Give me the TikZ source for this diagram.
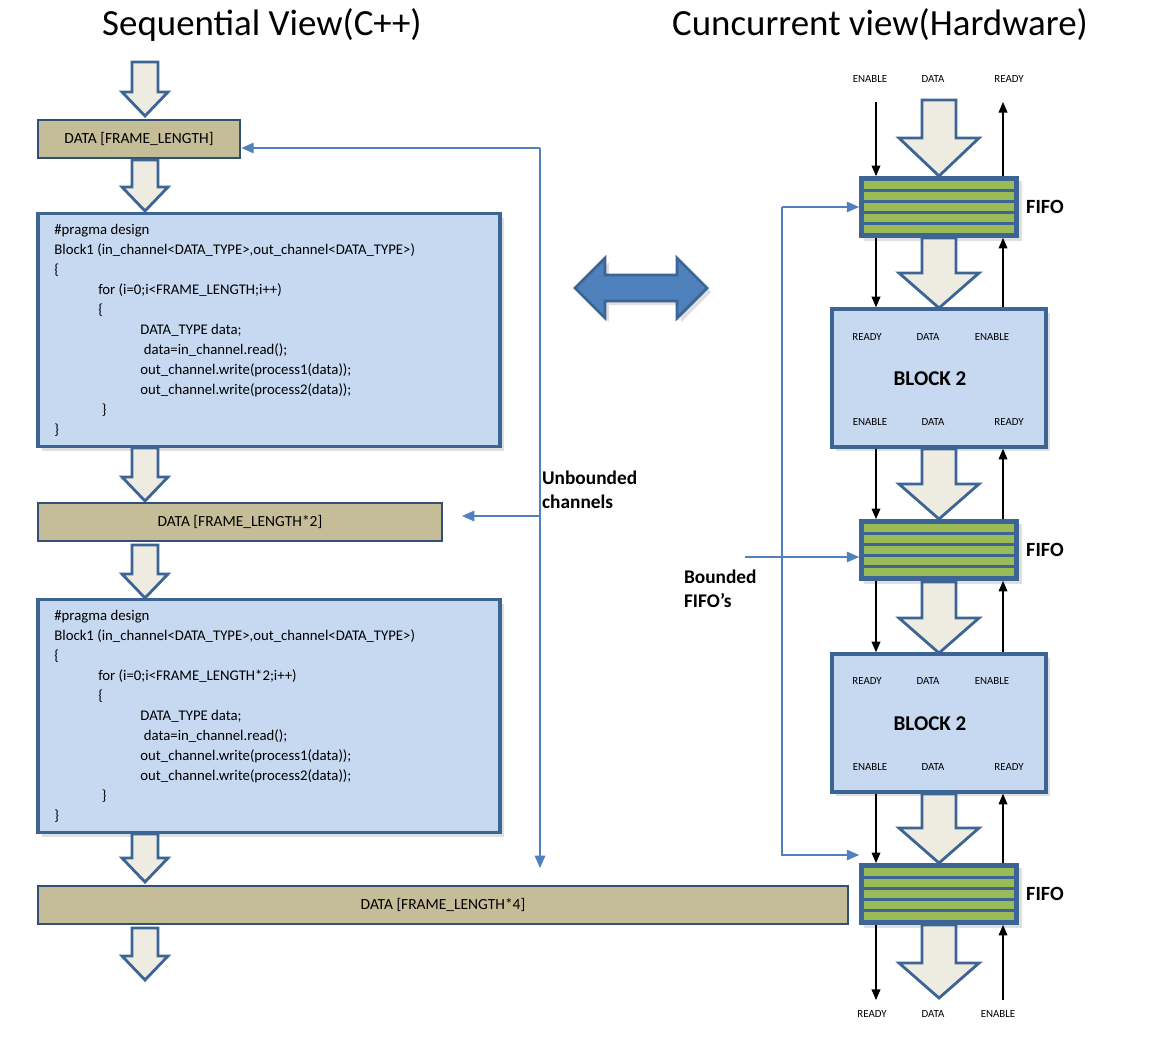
\documentclass[tikz,border=0pt]{standalone}
\usepackage{fontspec}
\setmainfont{Carlito}
\usetikzlibrary{arrows.meta,positioning,shadows}
\definecolor{boxblue}{HTML}{C6D9F1}
\definecolor{edgeblue}{HTML}{3C6494}
\definecolor{tan}{HTML}{C4BD97}
\definecolor{cream}{HTML}{EEECE1}
\definecolor{fifogreen}{HTML}{9BBB59}
\definecolor{linkblue}{HTML}{4F81BD}
\tikzset{
  codebox/.style={draw=edgeblue, line width=2pt, fill=boxblue, minimum width=9.24cm, minimum height=4.66cm, drop shadow={opacity=0.25}},
  databox/.style={draw=edgeblue!80!black, line width=1.6pt, fill=tan, minimum height=0.76cm, font=\fontsize{8.8}{10}\selectfont},
  blockbox/.style={draw=edgeblue, line width=2pt, fill=boxblue, minimum width=4.28cm, minimum height=2.76cm, drop shadow={opacity=0.25}},
  fifo/.style={draw=edgeblue, line width=1pt, fill=edgeblue, minimum width=3.16cm, minimum height=1.2cm, drop shadow={opacity=0.25}},
  fatarrow/.style={draw=edgeblue, line width=1.6pt, fill=cream},
  sig/.style={-{Triangle[length=6pt,width=5pt]}, line width=0.6pt},
  link/.style={-{Triangle[length=7pt,width=6pt]}, draw=linkblue, line width=0.7pt},
  lbl/.style={font=\fontsize{6.2}{8}\selectfont},
  code/.style={anchor=north west, align=left, font=\fontsize{8.4}{11.4}\selectfont, inner sep=0pt}
}
% x, top, bottom, shaft half, head half, head length
\newcommand\fatarr[6]{\draw[fatarrow] (#1-#4,#2) -- (#1+#4,#2) -- (#1+#4,#3-#6) -- (#1+#5,#3-#6) -- (#1,#3) -- (#1-#5,#3-#6) -- (#1-#4,#3-#6) -- cycle;}
\newcommand\fifobox[2]{%
  \node[fifo] (#1) at (939,#2) {};
  \foreach \i in {0,...,4}
    \fill[fifogreen] (864,#2-26+\i*11) rectangle (1014,#2-18+\i*11);
  \node[anchor=west, font=\bfseries\fontsize{11.5}{13}\selectfont] (#1-l) at (1020,#2) {FIFO};}
\begin{document}
\begin{tikzpicture}[x=0.02cm, y=-0.02cm]
\useasboundingbox (0,0) rectangle (1151,1038);

% titles
\node[font=\fontsize{21}{24}\selectfont] (tseq) at (262,25) {Sequential View(C++)};
\node[font=\fontsize{21}{24}\selectfont] (tcon) at (880,25) {Cuncurrent view(Hardware)};

% left column
\fatarr{145}{62}{116}{13}{23}{24}
\node[databox, minimum width=4.04cm] (d1) at (139,139) {DATA [FRAME\_LENGTH]};
\fatarr{145}{160}{211}{13}{23}{24}
\node[codebox] (c1) at (269,330) {};
\node[code] (c1t) at (54,224) {\#pragma design\\
Block1 (in\_channel<DATA\_TYPE>,out\_channel<DATA\_TYPE>)\\
\{\\
\hspace*{25pt}for (i=0;i<FRAME\_LENGTH;i++)\\
\hspace*{25pt}\{\\
\hspace*{49pt}DATA\_TYPE data;\\
\hspace*{51pt}data=in\_channel.read();\\
\hspace*{49pt}out\_channel.write(process1(data));\\
\hspace*{49pt}out\_channel.write(process2(data));\\
\hspace*{27pt}\}\\
\}};
\fatarr{145}{448}{501}{13}{23}{24}
\node[databox, minimum width=8.08cm] (d2) at (240,522) {DATA [FRAME\_LENGTH*2]};
\fatarr{145}{545}{598}{13}{23}{24}
\node[codebox] (c2) at (269,716) {};
\node[code] (c2t) at (54,610) {\#pragma design\\
Block1 (in\_channel<DATA\_TYPE>,out\_channel<DATA\_TYPE>)\\
\{\\
\hspace*{25pt}for (i=0;i<FRAME\_LENGTH*2;i++)\\
\hspace*{25pt}\{\\
\hspace*{49pt}DATA\_TYPE data;\\
\hspace*{51pt}data=in\_channel.read();\\
\hspace*{49pt}out\_channel.write(process1(data));\\
\hspace*{49pt}out\_channel.write(process2(data));\\
\hspace*{27pt}\}\\
\}};
\fatarr{145}{834}{882}{13}{23}{24}
\node[databox, minimum width=16.2cm] (d4) at (443,905) {DATA [FRAME\_LENGTH*4]};
\fatarr{145}{928}{980}{13}{23}{24}

% unbounded channels
\coordinate (ub) at (540,148);
\coordinate (ubend) at (540,868);
\draw[link] (ub) -- (d1.east |- ub);
\draw[link] (ub) -- (ubend);
\coordinate (ubm) at (540,516);
\draw[link] (ubm) -- (462,516);
\node[anchor=west, align=left, font=\bfseries\fontsize{11}{13.5}\selectfont, inner sep=1pt] (ubl) at (540,490) {Unbounded\\channels};

% double arrow
\draw[fatarrow, draw=edgeblue, fill=linkblue, drop shadow={opacity=0.25}] (575,288) -- (605,258) -- (605,275) -- (677,275) -- (677,258) -- (707,288) -- (677,318) -- (677,301) -- (605,301) -- (605,318) -- cycle;

% right column
\coordinate (enx) at (876,0);
\coordinate (rdx) at (1003,0);
\node[lbl] (tEN) at (870,79) {ENABLE};
\node[lbl] (tDA) at (933,79) {DATA};
\node[lbl] (tRD) at (1009,79) {READY};
\fatarr{939}{100}{176}{17}{40}{38}
\fifobox{f1}{207}
\fatarr{939}{238}{308}{17}{40}{35}
\node[blockbox] (b1) at (939,378) {};
\node[font=\bfseries\fontsize{12}{14}\selectfont] (b1n) at (930,379) {BLOCK 2};
\node[lbl] at (867,337) {READY};
\node[lbl] at (928,337) {DATA};
\node[lbl] at (992,337) {ENABLE};
\node[lbl] at (870,422) {ENABLE};
\node[lbl] at (933,422) {DATA};
\node[lbl] at (1009,422) {READY};
\fatarr{939}{449}{519}{17}{40}{35}
\fifobox{f2}{550}
\fatarr{939}{582}{653}{17}{40}{35}
\node[blockbox] (b2) at (939,723) {};
\node[font=\bfseries\fontsize{12}{14}\selectfont] (b2n) at (930,724) {BLOCK 2};
\node[lbl] at (867,681) {READY};
\node[lbl] at (928,681) {DATA};
\node[lbl] at (992,681) {ENABLE};
\node[lbl] at (870,767) {ENABLE};
\node[lbl] at (933,767) {DATA};
\node[lbl] at (1009,767) {READY};
\fatarr{939}{794}{863}{17}{40}{35}
\fifobox{f3}{894}
\fatarr{939}{925}{998}{17}{40}{35}
\node[lbl] (bRD) at (872,1014) {READY};
\node[lbl] (bDA) at (933,1014) {DATA};
\node[lbl] (bEN) at (998,1014) {ENABLE};

% handshake lines
\coordinate (topy) at (0,102);
\coordinate (boty) at (0,1000);
\draw[sig] (topy -| enx) -- (f1.north -| enx);
\draw[sig] (f1.north -| rdx) -- (topy -| rdx);
\draw[sig] (f1.south -| enx) -- (b1.north -| enx);
\draw[sig] (b1.north -| rdx) -- (f1.south -| rdx);
\draw[sig] (b1.south -| enx) -- (f2.north -| enx);
\draw[sig] (f2.north -| rdx) -- (b1.south -| rdx);
\draw[sig] (f2.south -| enx) -- (b2.north -| enx);
\draw[sig] (b2.north -| rdx) -- (f2.south -| rdx);
\draw[sig] (b2.south -| enx) -- (f3.north -| enx);
\draw[sig] (f3.north -| rdx) -- (b2.south -| rdx);
\draw[sig] (f3.south -| enx) -- (boty -| enx);
\draw[sig] (boty -| rdx) -- (f3.south -| rdx);

% bounded fifos
\coordinate (bfx) at (782,0);
\draw[link] (f1.west -| bfx) -- (f1.west);
\draw[link] (bfx |- f1.west) -- (bfx |- 855,855) -- (f3.west |- 855,855);
\draw[link] (745,557) -- (f2.west |- 745,557);
\node[anchor=north west, align=left, font=\bfseries\fontsize{11}{13.5}\selectfont, inner sep=1pt] (bfl) at (682,568) {Bounded\\FIFO's};
\end{tikzpicture}
\end{document}
